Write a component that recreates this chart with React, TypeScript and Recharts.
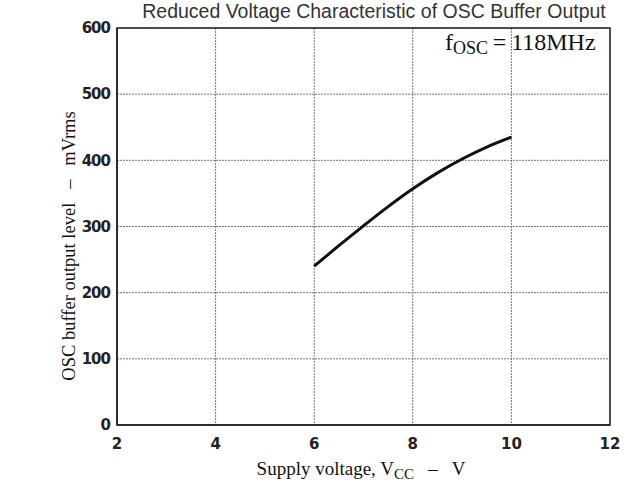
import React from "react";
import { LineChart, Line, XAxis, YAxis, CartesianGrid, ReferenceArea, Label } from "recharts";

const voltage = [6, 6.5, 7, 7.5, 8, 8.5, 9, 9.5, 10];
const outputLevel = [240, 271, 301, 330, 357, 381, 402, 420, 435];
const xTicks = [2, 4, 6, 8, 10, 12];
const yTicks = [0, 100, 200, 300, 400, 500, 600];
const title = "Reduced Voltage Characteristic of OSC Buffer Output";

const data = voltage.map((v, i) => ({ v, level: outputLevel[i] }));

const serif = "'Liberation Serif', 'Times New Roman', serif";
const tickFont = "'DejaVu Sans', sans-serif";

const XLabel = () => (
  <text x={361} y={475} textAnchor="middle" fontFamily={serif} fontSize={19} fill="#111" style={{ whiteSpace: "pre" }}>
    <tspan>Supply voltage, V</tspan>
    <tspan fontSize={15} dy={4}>CC</tspan>
    <tspan dy={-4}>{"   \u2013   V"}</tspan>
  </text>
);

const YLabel = () => {
  const cy = 246;
  const x = 75;
  return (
    <text x={x} y={cy} transform={`rotate(-90 ${x} ${cy})`} textAnchor="middle" fontFamily={serif} fontSize={18.5} fill="#111" style={{ whiteSpace: "pre" }}>
      {"OSC buffer output level   \u2013   mVrms"}
    </text>
  );
};

export default function App() {
  return (
    <div style={{ position: "absolute", left: 0, top: 0, background: "#fff" }}>
      <LineChart width={627} height={484} data={data} margin={{ top: 28, right: 17, bottom: 29, left: 77 }}>
        <CartesianGrid stroke="#777" strokeDasharray="2 1" strokeWidth={1} />
        <XAxis
          dataKey="v"
          type="number"
          domain={[2, 12]}
          ticks={xTicks}
          tickLine={false}
          axisLine={{ stroke: "#222", strokeWidth: 1.5 }}
          height={30}
          tick={{ fontFamily: tickFont, fontSize: 15, fill: "#222", fontWeight: 600 }}
          tickMargin={7}
        >
          <Label content={XLabel} />
        </XAxis>
        <YAxis
          type="number"
          domain={[0, 600]}
          ticks={yTicks}
          tickLine={false}
          axisLine={{ stroke: "#222", strokeWidth: 1.5 }}
          width={40}
          tick={{ fontFamily: tickFont, fontSize: 15, fill: "#222", fontWeight: 600, letterSpacing: -1 }}
          tickMargin={1}
        >
          <Label content={YLabel} />
        </YAxis>
        <ReferenceArea x1={2} x2={12} y1={0} y2={600} fill="none" stroke="#222" strokeWidth={1.5} />
        <Line
          dataKey="level"
          type="monotone"
          stroke="#111"
          strokeWidth={3}
          dot={false}
          isAnimationActive={false}
        />
        <text x={374} y={18} textAnchor="middle" fontFamily="'Liberation Sans', Arial, sans-serif" fontSize={19.5} fill="#333">
          {title}
        </text>
        <text x={445} y={50} fontFamily={serif} fontSize={24} fill="#111">
          <tspan>f</tspan>
          <tspan fontSize={18} dy={4}>OSC</tspan>
          <tspan dy={-4}>{"\u2009=\u2009118MHz"}</tspan>
        </text>
      </LineChart>
    </div>
  );
}
